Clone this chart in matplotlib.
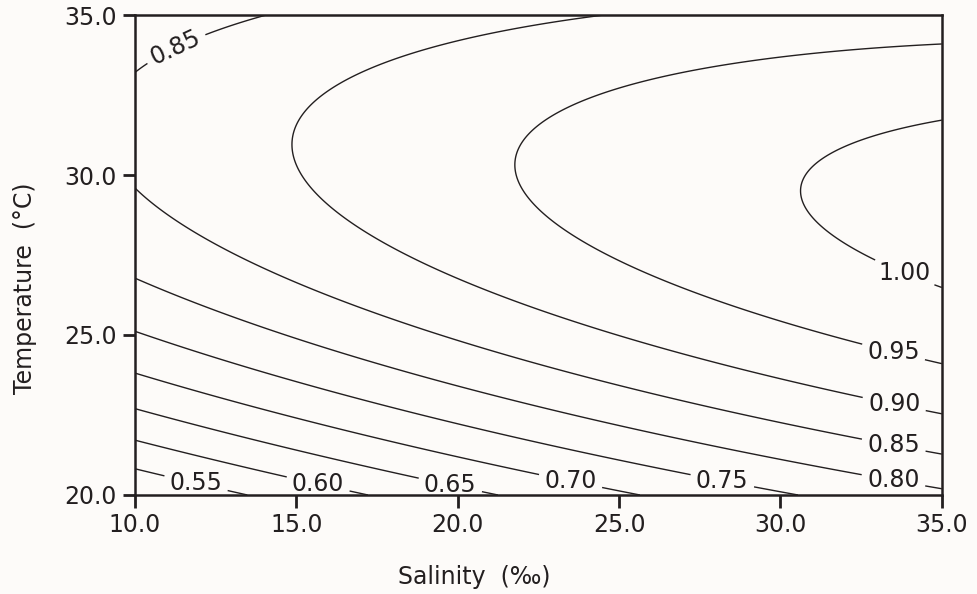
import numpy as np
import matplotlib
matplotlib.use('Agg')
import matplotlib.pyplot as plt

# Fitted response surface:
# value = peak(S) - curvature * (T - ridge_temp(S))**2, with u = S - 10
SALINITY_RANGE = [10.0, 35.0]
TEMPERATURE_RANGE = [20.0, 35.0]
PEAK_COEFFS = [0.859, 0.00892, -0.000101]      # peak value along the ridge, in u
RIDGE_TEMP_COEFFS = [31.4, -0.092]               # temperature of the ridge, in u
CURVATURE = 0.00276

LEVELS = [0.55, 0.60, 0.65, 0.70, 0.75, 0.80, 0.85, 0.90, 0.95, 1.00]
X_TICKS = [10.0, 15.0, 20.0, 25.0, 30.0, 35.0]
Y_TICKS = [20.0, 25.0, 30.0, 35.0]

# label anchor points (salinity, temperature)
LABEL_POINTS = [
    (11.3, 33.9),
    (33.85, 26.95),
    (33.5, 24.45),
    (33.5, 22.72),
    (33.5, 21.5),
    (33.5, 20.45),
    (28.2, 20.45),
    (23.5, 20.45),
    (19.8, 20.45),
    (15.7, 20.45),
    (11.9, 20.4),
]

INK = '#231f20'
PAPER = '#fdfbf9'

salinity = np.linspace(*SALINITY_RANGE, 400)
temperature = np.linspace(*TEMPERATURE_RANGE, 400)
S, T = np.meshgrid(salinity, temperature)
u = S - 10.0
peak = PEAK_COEFFS[0] + PEAK_COEFFS[1] * u + PEAK_COEFFS[2] * u ** 2
ridge = RIDGE_TEMP_COEFFS[0] + RIDGE_TEMP_COEFFS[1] * u
surface = peak - CURVATURE * (T - ridge) ** 2

plt.rcParams['font.family'] = ['DejaVu Sans']
fig = plt.figure(figsize=(9.78, 5.94), dpi=100, facecolor=PAPER)
ax = fig.add_axes([0.138, 0.1667, 0.825, 0.808])
ax.set_facecolor(PAPER)

cs = ax.contour(S, T, surface, levels=LEVELS, colors=INK, linewidths=1.0)
ax.clabel(cs, fmt='%.2f', manual=LABEL_POINTS, inline=True,
          inline_spacing=6, fontsize=17, colors=INK)
for txt in ax.texts:
    sx, sy = txt.get_position()
    if sy > 30:
        txt.set_rotation(25)
    else:
        txt.set_rotation(0)

ax.set_xlim(SALINITY_RANGE)
ax.set_ylim(TEMPERATURE_RANGE)
ax.set_xticks(X_TICKS)
ax.set_yticks(Y_TICKS)
ax.set_xticklabels(['%.1f' % v for v in X_TICKS])
ax.set_yticklabels(['%.1f' % v for v in Y_TICKS])
ax.tick_params(direction='out', length=9, width=2, colors=INK, labelsize=17, pad=4)
for spine in ax.spines.values():
    spine.set_linewidth(1.8)
    spine.set_color(INK)

ax.set_xlabel('Salinity  (‰)', fontsize=17, color=INK)
ax.set_ylabel('Temperature  (°C)', fontsize=17, color=INK)
ax.xaxis.set_label_coords(0.421, -0.145)
ax.yaxis.set_label_coords(-0.122, 0.431)

fig.savefig('out.png', dpi=100, facecolor=PAPER)
